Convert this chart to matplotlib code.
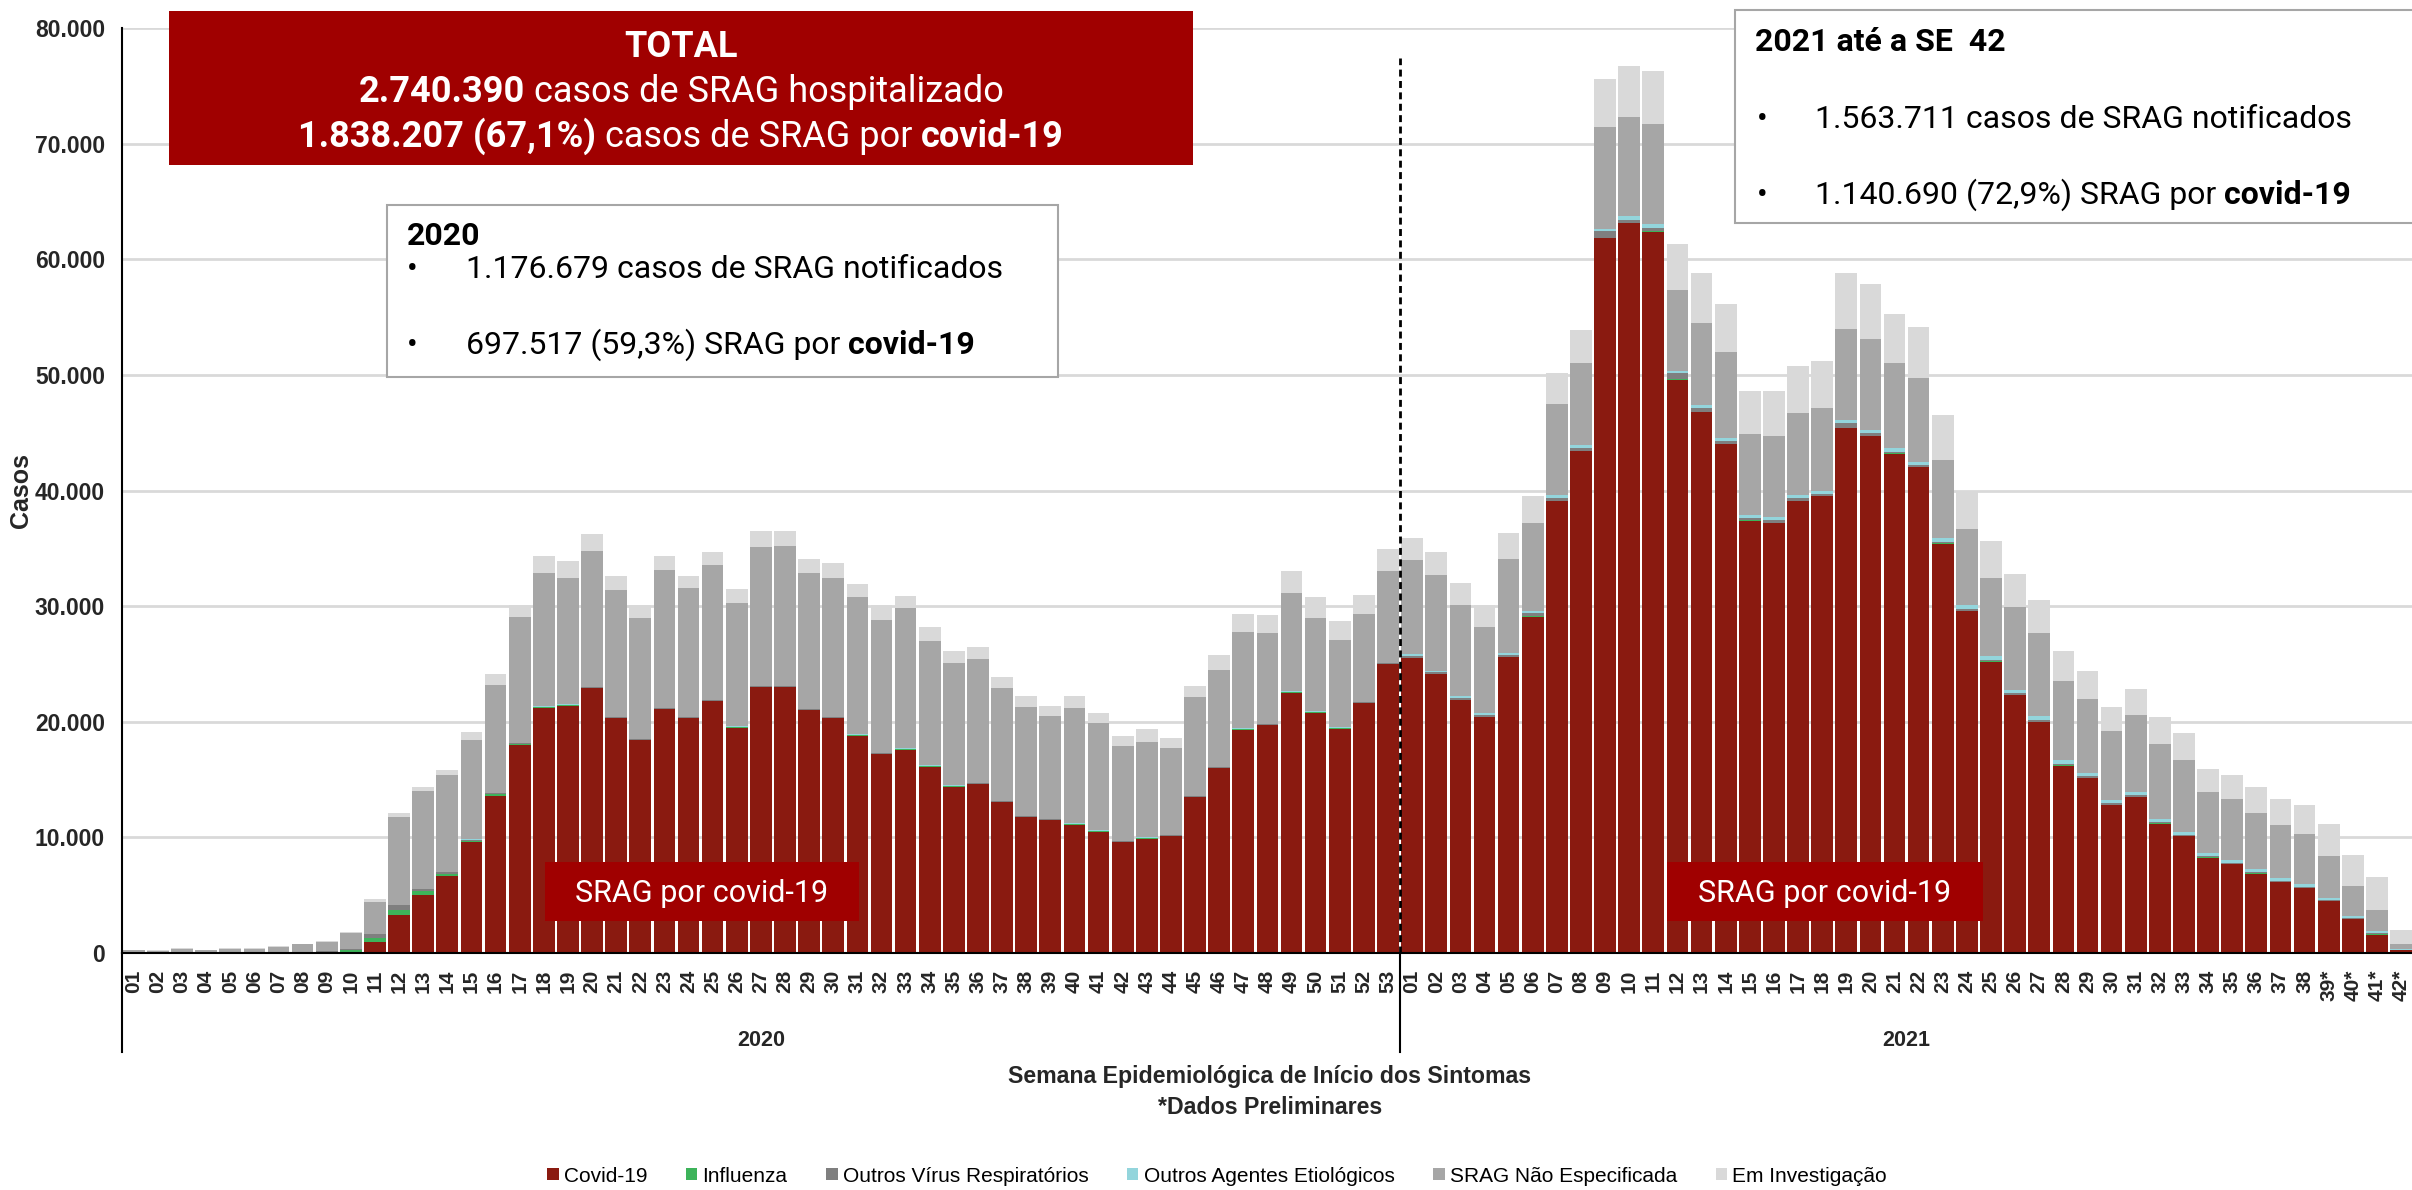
import matplotlib
matplotlib.use("Agg")
import matplotlib.pyplot as plt
from matplotlib.patches import Rectangle, Patch
from matplotlib.transforms import IdentityTransform
import numpy as np

# ---------------- data (cases per epidemiological week) ----------------
weeks_2020 = ["%02d" % i for i in range(1, 54)]
weeks_2021 = ["%02d" % i for i in range(1, 39)] + ["39*", "40*", "41*", "42*"]
week_labels = weeks_2020 + weeks_2021
years = ["2020", "2021"]

covid_2020 = [0, 0, 0, 0, 0, 0, 0, 0, 10, 50, 920, 3310, 5040, 6630, 9570, 13600, 18000, 21200,
              21400, 22900, 20300, 18400, 21100, 20300, 21800, 19500, 23000, 23000, 21000, 20300,
              18800, 17200, 17600, 16100, 14400, 14600, 13050, 11760, 11500, 11100, 10500, 9600,
              9900, 10100, 13500, 16000, 19300, 19700, 22500, 20800, 19400, 21600, 25000]
covid_2021 = [25500, 24100, 21900, 20400, 25600, 29100, 39100, 43400, 61800, 63100, 62400, 49600,
              46800, 44000, 37400, 37200, 39100, 39500, 45400, 44700, 43200, 42000, 35400, 29600,
              25200, 22300, 20000, 16200, 15100, 12800, 13500, 11200, 10100, 8250, 7660, 6860,
              6100, 5600, 4460, 2900, 1600, 260]

influenza_2020 = [20, 20, 30, 20, 30, 30, 40, 60, 100, 200, 370, 420, 300, 220, 120, 150, 80, 60] + [30] * 35
influenza_2021 = [20] * 41 + [10]

outros_virus_2020 = [10, 10, 20, 10, 10, 20, 20, 30, 40, 80, 350, 420, 200, 150, 100, 80, 60, 50] + [50] * 35
outros_virus_2021 = ([150] * 5 + [250, 200, 250, 600, 250, 300, 500, 350, 300] + [200] * 4 +
                     [450, 250] + [150] * 10 + [120] * 8 + [100] * 3 + [30])

outros_agentes_2020 = [10, 0, 10, 10, 10, 10, 10, 10, 10, 20, 30, 30, 30, 30, 30, 40, 40, 40] + [40] * 35
outros_agentes_2021 = ([150] * 5 + [200, 250, 300, 200, 350, 300, 250, 250, 250] + [250] * 4 +
                       [250, 300] + [300] * 10 + [250] * 8 + [150] * 3 + [40])

nao_especificada_2020 = [200, 170, 320, 210, 330, 320, 450, 640, 760, 1350, 2780, 7580, 8410, 8370,
                         8580, 9330, 10870, 11500, 10880, 11780, 10980, 10480, 11880, 11180, 11680,
                         10680, 11980, 12080, 11780, 11980, 11880, 11480, 12080, 10780, 10580, 10680,
                         9730, 9420, 8880, 9980, 9280, 8180, 8230, 7480, 8480, 8380, 8380, 7880, 8480,
                         8080, 7580, 7580, 7880]
nao_especificada_2021 = [8180, 8280, 7880, 7480, 8180, 7630, 7930, 7030, 8780, 8580, 8680, 6930, 7080,
                         7430, 7030, 7030, 7130, 7130, 7880, 7830, 7330, 7230, 6730, 6630, 6730, 7130,
                         7230, 6830, 6430, 5930, 6710, 6510, 6210, 5260, 5250, 4850, 4610, 4310, 3670,
                         2630, 1830, 450]

em_investigacao_2020 = [50, 30, 50, 40, 50, 50, 60, 70, 80, 100, 220, 340, 370, 450, 700, 900, 1010,
                        1450, 1460, 1400, 1200, 1100, 1200, 1000, 1100, 1200, 1400, 1300, 1200, 1300,
                        1100, 1300, 1100, 1200, 1000, 1100, 1000, 900, 900, 1000, 900, 900, 1150, 900,
                        1000, 1300, 1500, 1500, 1900, 1800, 1600, 1700, 1900]
em_investigacao_2021 = [1900, 2000, 1900, 1900, 2200, 2300, 2700, 2900, 4200, 4400, 4600, 4000, 4300,
                        4100, 3700, 3900, 4100, 4100, 4800, 4800, 4300, 4400, 3900, 3300, 3200, 2900,
                        2800, 2600, 2400, 2100, 2200, 2300, 2300, 2000, 2100, 2300, 2200, 2500, 2800,
                        2700, 2900, 1200]

series_names = ["Covid-19", "Influenza", "Outros Vírus Respiratórios", "Outros Agentes Etiológicos",
                "SRAG Não Especificada", "Em Investigação"]
series_values = [covid_2020 + covid_2021,
                 influenza_2020 + influenza_2021,
                 outros_virus_2020 + outros_virus_2021,
                 outros_agentes_2020 + outros_agentes_2021,
                 nao_especificada_2020 + nao_especificada_2021,
                 em_investigacao_2020 + em_investigacao_2021]
series_colors = ["#8A1A10", "#3DB35A", "#7F7F7F", "#93D5DC", "#A6A6A6", "#D9D9D9"]

# ---------------- figure ----------------
W, H = 2412, 1190
fig = plt.figure(figsize=(W / 100, H / 100), dpi=100)
fig.patch.set_facecolor("white")
AX_L, AX_T, AX_B = 121.7, 28, 953
PITCH = 24.12
ax = fig.add_axes([AX_L / W, (H - AX_B) / H, (W - AX_L) / W, (AX_B - AX_T) / H])

n = len(week_labels)
x = np.arange(n)
bottom = np.zeros(n)
for vals, col, name in zip(series_values, series_colors, series_names):
    v = np.array(vals, dtype=float)
    ax.bar(x, v, 0.9, bottom=bottom, color=col, linewidth=0, label=name, zorder=2)
    bottom += v

ax.set_xlim(-0.5, -0.5 + (W - AX_L) / PITCH)
ax.set_ylim(0, 80000)
yt = np.arange(0, 80001, 10000)
ax.set_yticks(yt)
ax.set_yticklabels(["{:,}".format(int(v)).replace(",", ".") for v in yt])
ax.tick_params(axis="y", length=0, pad=12, labelsize=16.5, labelcolor="#262626")
for lab in ax.get_yticklabels():
    lab.set_fontweight("bold")
    lab.set_family("Liberation Sans")

ax.set_xticks(x)
ax.set_xticklabels(week_labels, rotation=90, fontsize=15, fontweight="bold",
                   family="Liberation Sans", va="top", ha="center", color="#262626")
ax.tick_params(axis="x", length=0, pad=12)

ax.yaxis.grid(True, color="#D9D9D9", linewidth=2)
ax.xaxis.grid(False)
ax.set_axisbelow(True)
for s in ["top", "right"]:
    ax.spines[s].set_visible(False)
for s in ["left", "bottom"]:
    ax.spines[s].set_linewidth(1.5)
    ax.spines[s].set_color("black")

# group separators below the axis
xt = ax.get_xaxis_transform()
sep_depth = -(1052 - AX_B) / (AX_B - AX_T)
n20 = len(weeks_2020)
for xs in [-0.5, n20 - 0.5]:
    ax.plot([xs, xs], [0, sep_depth], transform=xt, color="black", lw=1.5, clip_on=False, zorder=6)
ylab = -(1040 - AX_B) / (AX_B - AX_T)
ax.text((n20 - 1) / 2, ylab, years[0], transform=xt, ha="center",
        va="center", fontsize=15.5, fontweight="bold", family="Liberation Sans", color="#262626")
ax.text(n20 + (len(weeks_2021) - 1) / 2, ylab, years[1], transform=xt,
        ha="center", va="center", fontsize=15.5, fontweight="bold", family="Liberation Sans", color="#262626")

# dashed year divider
ax.plot([n20 - 0.5, n20 - 0.5], [0, (AX_B - 58) / (AX_B - AX_T)], transform=xt, color="black",
        lw=2, ls=(0, (2.5, 1.6)), zorder=7, clip_on=False)

# axis titles
fig.text(21 / W, 1 - 490 / H, "Casos", rotation=90, ha="center", va="center", fontsize=18,
         fontweight="bold", family="Liberation Sans", color="#262626")
fig.text(1270 / W, 1 - 1076 / H, "Semana Epidemiológica de Início dos Sintomas", ha="center",
         va="center", fontsize=16.7, fontweight="bold", family="Liberation Sans", color="#262626")
fig.text(1270 / W, 1 - 1107 / H, "*Dados Preliminares", ha="center", va="center", fontsize=16.7,
         fontweight="bold", family="Liberation Sans", color="#262626")

# legend
handles = [Patch(facecolor=c, edgecolor="none") for c in series_colors]
fig.legend(handles, series_names, loc="center", bbox_to_anchor=(1217 / W, 1 - 1176 / H), ncol=6,
           frameon=False, handlelength=0.55, handleheight=0.55, handletextpad=0.25,
           columnspacing=1.85, borderpad=0, prop={"family": "Liberation Sans", "size": 15})

# ---------------- annotation boxes ----------------
def box(x0, y0, x1, y1, fc, ec="none", lw=0):
    r = Rectangle((x0 / W, 1 - y1 / H), (x1 - x0) / W, (y1 - y0) / H, transform=fig.transFigure,
                  facecolor=fc, edgecolor=ec, linewidth=lw, zorder=10)
    fig.add_artist(r)

renderer = fig.canvas.get_renderer()

def text_w(s, size, weight, family):
    t = fig.text(0, 0, s, fontsize=size, fontweight=weight, family=family)
    w = t.get_window_extent(renderer).width
    t.remove()
    return w

def seg_line(xp, yp, segs, size, color="black", family="Roboto", align="left"):
    sp = text_w("n n", size, "normal", family) - text_w("nn", size, "normal", family)
    widths = [text_w(s, size, wt, family) for s, wt in segs]
    total = sum(widths) + sp * (len(segs) - 1)
    x0 = xp - total / 2 if align == "center" else xp
    for (s, wt), w in zip(segs, widths):
        fig.text(x0, H - yp, s, transform=IdentityTransform(), fontsize=size, fontweight=wt,
                 family=family, color=color, ha="left", va="baseline", zorder=11)
        x0 += w + sp

RED_BOX = "#A00000"
# TOTAL box
box(169, 11, 1193, 165, RED_BOX)
seg_line(681, 57, [("TOTAL", "bold")], 26, "white", align="center")
seg_line(681, 102, [("2.740.390", "bold"), ("casos de SRAG hospitalizado", "normal")], 26, "white",
         align="center")
seg_line(681, 147, [("1.838.207 (67,1%)", "bold"), ("casos de SRAG por", "normal"), ("covid-19", "bold")],
         26, "white", align="center")

# 2020 box
box(387, 205, 1058, 377, "white", "#A6A6A6", 1.5)
seg_line(407, 245, [("2020", "bold")], 23)
seg_line(407, 278, [("•", "normal")], 23)
seg_line(466, 278, [("1.176.679 casos de SRAG notificados", "normal")], 23)
seg_line(407, 354, [("•", "normal")], 23)
seg_line(466, 354, [("697.517 (59,3%) SRAG por", "normal"), ("covid-19", "bold")], 23)

# 2021 box
box(1735, 10, 2425, 223, "white", "#A6A6A6", 1.5)
seg_line(1755, 51, [("2021 até a SE  42", "bold")], 23)
seg_line(1757, 128, [("•", "normal")], 23)
seg_line(1815, 128, [("1.563.711 casos de SRAG notificados", "normal")], 23)
seg_line(1757, 204, [("•", "normal")], 23)
seg_line(1815, 204, [("1.140.690 (72,9%) SRAG por", "normal"), ("covid-19", "bold")], 23)

# "SRAG por covid-19" labels on bars
for (bx0, bx1) in [(545, 859), (1667, 1983)]:
    box(bx0, 862, bx1, 921, RED_BOX)
    seg_line((bx0 + bx1) / 2, 902, [("SRAG por covid-19", "normal")], 22, "white", align="center")

fig.savefig("out.png", dpi=100, facecolor="white")
